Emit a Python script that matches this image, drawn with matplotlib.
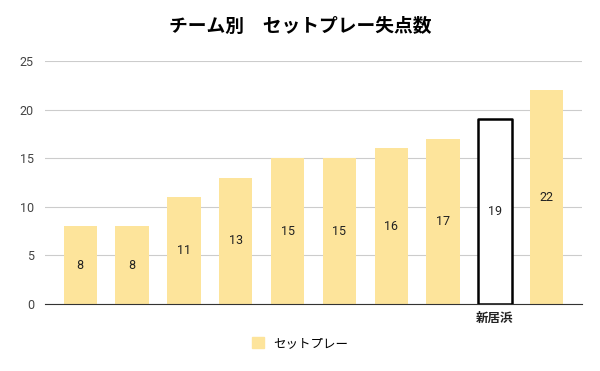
import matplotlib.pyplot as plt
import numpy as np

plt.rcParams['font.family'] = ['Roboto', 'Noto Sans CJK JP', 'DejaVu Sans']

# data
teams = ['', '', '', '', '', '', '', '', '新居浜', '']
goals_against = [8, 8, 11, 13, 15, 15, 16, 17, 19, 22]
highlight = '新居浜'
series_name = 'セットプレー'

bar_color = '#fde49b'

fig = plt.figure(figsize=(6, 3.71), dpi=100)
ax = fig.add_axes([0.075, 0.1806, 0.895, 0.6550])

x = np.arange(len(teams))
colors = ['white' if t == highlight else bar_color for t in teams]
edges = ['black' if t == highlight else bar_color for t in teams]
widths = [1.8 if t == highlight else 0 for t in teams]
bars = ax.bar(x, goals_against, width=0.64, color=colors, edgecolor=edges,
              linewidth=widths, zorder=3, label=series_name)
for b in bars:
    b.set_joinstyle('round')

for xi, v in zip(x, goals_against):
    ax.text(xi, v / 2, str(v), ha='center', va='center', fontsize=9,
            color='#222222', zorder=4)

ax.set_ylim(0, 25)
ax.set_yticks([0, 5, 10, 15, 20, 25])
ax.set_xlim(-0.68, 9.68)
ax.set_xticks(x)
ax.set_xticklabels(teams, fontsize=8.5, fontweight='bold',
                   family=['Noto Sans CJK JP'])
ax.tick_params(axis='both', length=0, labelsize=9, colors='#444444')
ax.tick_params(axis='y', pad=8)
ax.tick_params(axis='x', pad=6, labelcolor='#222222')
ax.grid(axis='y', color='#cccccc', linewidth=0.8, zorder=0)
for s in ['top', 'right', 'left']:
    ax.spines[s].set_visible(False)
ax.spines['bottom'].set_color('#333333')
ax.spines['bottom'].set_zorder(5)

fig.suptitle('チーム別　セットプレー失点数', x=0.5, y=0.955, fontsize=13.5,
             fontweight='bold', family=['Noto Sans CJK JP'])

handle = plt.Rectangle((0, 0), 1, 1, color=bar_color)
fig.legend([handle], [series_name], loc='center', bbox_to_anchor=(0.5, 0.075),
           frameon=False, fontsize=9, handlelength=1.0, handleheight=1.0,
           handletextpad=0.7, prop={'family': ['Noto Sans CJK JP'], 'size': 9})

fig.savefig('out.png', dpi=100)
